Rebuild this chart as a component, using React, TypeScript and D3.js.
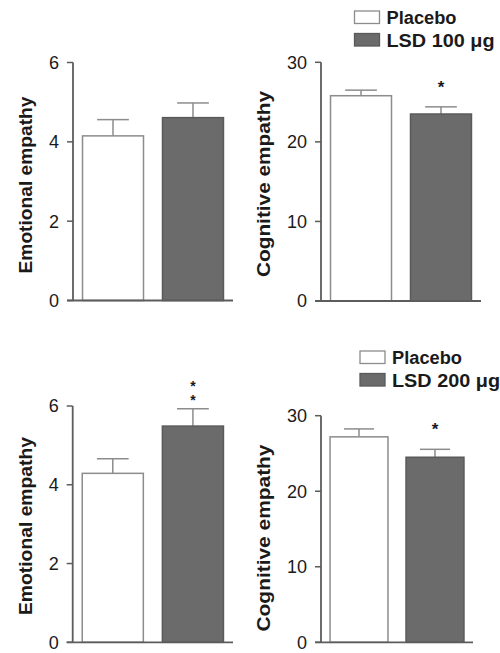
import React from "react";
import * as d3 from "d3";

// ---------- data ----------
const groups = ["Placebo", "LSD"];

const emotional100 = [4.15, 4.61];
const emotional100Err = [0.41, 0.37];
const cognitive100 = [25.8, 23.5];
const cognitive100Err = [0.7, 0.9];

const emotional200 = [4.29, 5.49];
const emotional200Err = [0.37, 0.44];
const cognitive200 = [27.2, 24.5];
const cognitive200Err = [1.05, 1.05];

const emotionalTicks = [0, 2, 4, 6];
const cognitiveTicks = [0, 10, 20, 30];

const sig100Emotional = ["", ""];
const sig100Cognitive = ["", "*"];
const sig200Emotional = ["", "**"];
const sig200Cognitive = ["", "*"];

const legend100 = ["Placebo", "LSD 100 \u03bcg"];
const legend200 = ["Placebo", "LSD 200 \u03bcg"];

const emotionalLabel = "Emotional empathy";
const cognitiveLabel = "Cognitive empathy";

// ---------- styles ----------
const FONT = "'Liberation Sans', Arial, Helvetica, sans-serif";
const AXIS = "#5c5c5c";
const TEXT = "#1a1a1a";
const fills = ["#ffffff", "#6b6b6b"];
const strokes = ["#8c8c8c", "#5a5a5a"];
const legendTextLen = [70, 108];
const STAR_FONT = 17;
const STAR_MID = 0.58 * STAR_FONT; // asterisk centre above baseline

type PanelProps = {
  values: number[];
  errs: number[];
  sig: string[];
  ticks: number[];
  max: number;
  label: string;
  axisX: number;
  xEnd: number;
  yBottom: number;
  yTop: number;
  labelX: number;
  labelY: number;
  labelLen: number;
};

function Stars({ s, cx, errTop }: { s: string; cx: number; errTop: number }) {
  if (!s) return null;
  if (s.length === 1) {
    return (
      <text
        x={cx}
        y={errTop - 24 + STAR_MID}
        textAnchor="middle"
        fontFamily={FONT}
        fontWeight="bold"
        fontSize={STAR_FONT}
        fill={TEXT}
      >
        {s}
      </text>
    );
  }
  // stacked stars as one vertical text run
  return (
    <text
      x={cx}
      y={errTop - 17}
      textAnchor="middle"
      fontFamily={FONT}
      fontWeight="bold"
      fontSize={14}
      fill={TEXT}
      style={{ writingMode: "vertical-rl", textOrientation: "upright", letterSpacing: "-2.4px" } as any}
    >
      {s}
    </text>
  );
}

function Panel(p: PanelProps) {
  const y = d3.scaleLinear().domain([0, p.max]).range([p.yBottom, p.yTop]);
  const x = d3
    .scaleBand<string>()
    .domain(groups)
    .range([p.axisX, p.xEnd])
    .paddingInner(0.2375)
    .paddingOuter(0.119);
  const bw = x.bandwidth();
  const cap = bw * 0.52;
  return (
    <g>
      {groups.map((g, i) => {
        const x0 = x(g) as number;
        const cx = x0 + bw / 2;
        const top = y(p.values[i]);
        const errTop = y(p.values[i] + p.errs[i]);
        return (
          <g key={g}>
            <line x1={cx} x2={cx} y1={top} y2={errTop} stroke={strokes[0]} strokeWidth={1.5} />
            <line x1={cx - cap / 2} x2={cx + cap / 2} y1={errTop} y2={errTop} stroke={strokes[0]} strokeWidth={1.5} />
            <rect
              x={x0}
              y={top}
              width={bw}
              height={p.yBottom - top}
              fill={fills[i]}
              stroke={strokes[i]}
              strokeWidth={1.5}
            />
            <Stars s={p.sig[i]} cx={cx} errTop={errTop} />
          </g>
        );
      })}
      <line x1={p.axisX} x2={p.axisX} y1={p.yTop} y2={p.yBottom} stroke={AXIS} strokeWidth={1.8} />
      <line x1={p.axisX - 6} x2={p.xEnd} y1={p.yBottom} y2={p.yBottom} stroke={AXIS} strokeWidth={1.8} />
      {p.ticks.map((t) => (
        <g key={t}>
          <line x1={p.axisX - 6} x2={p.axisX} y1={y(t)} y2={y(t)} stroke={AXIS} strokeWidth={1.5} />
          <text
            x={p.axisX - 14}
            y={y(t)}
            dy="0.36em"
            textAnchor="end"
            fontFamily={FONT}
            fontSize={18}
            fill={TEXT}
          >
            {t}
          </text>
        </g>
      ))}
      <text
        transform={`translate(${p.labelX},${p.labelY}) rotate(-90)`}
        textAnchor="middle"
        fontFamily={FONT}
        fontWeight="bold"
        fontSize={19}
        fill={TEXT}
        textLength={p.labelLen}
        lengthAdjust="spacingAndGlyphs"
      >
        {p.label}
      </text>
    </g>
  );
}

function Legend({ items, x, y }: { items: string[]; x: number; y: number }) {
  return (
    <g>
      {items.map((it, i) => (
        <g key={it} transform={`translate(${x},${y + i * 22.5})`}>
          <rect x={0} y={0} width={25} height={12.5} fill={fills[i]} stroke={strokes[i]} strokeWidth={1.3} />
          <text
            x={32}
            y={13}
            fontFamily={FONT}
            fontWeight="bold"
            fontSize={18}
            fill={TEXT}
            textLength={legendTextLen[i]}
            lengthAdjust="spacingAndGlyphs"
          >
            {it}
          </text>
        </g>
      ))}
    </g>
  );
}

export default function App() {
  return (
    <svg
      width={500}
      height={653}
      viewBox="0 0 500 653"
      style={{ position: "absolute", left: 0, top: 0, background: "#fff" }}
    >
      <Panel
        values={emotional100}
        errs={emotional100Err}
        sig={sig100Emotional}
        ticks={emotionalTicks}
        max={6}
        label={emotionalLabel}
        axisX={73}
        xEnd={233}
        yBottom={300.5}
        yTop={62.5}
        labelX={32}
        labelY={185}
        labelLen={177}
      />
      <Panel
        values={cognitive100}
        errs={cognitive100Err}
        sig={sig100Cognitive}
        ticks={cognitiveTicks}
        max={30}
        label={cognitiveLabel}
        axisX={321}
        xEnd={481}
        yBottom={301}
        yTop={62.3}
        labelX={270}
        labelY={184}
        labelLen={186}
      />
      <Legend items={legend100} x={354.5} y={11} />

      <Panel
        values={emotional200}
        errs={emotional200Err}
        sig={sig200Emotional}
        ticks={emotionalTicks}
        max={6}
        label={emotionalLabel}
        axisX={72.7}
        xEnd={233}
        yBottom={642.3}
        yTop={406}
        labelX={32}
        labelY={526}
        labelLen={178}
      />
      <Panel
        values={cognitive200}
        errs={cognitive200Err}
        sig={sig200Cognitive}
        ticks={cognitiveTicks}
        max={30}
        label={cognitiveLabel}
        axisX={321}
        xEnd={473}
        yBottom={642.3}
        yTop={415.7}
        labelX={270}
        labelY={538}
        labelLen={187}
      />
      <Legend items={legend200} x={360} y={351} />
    </svg>
  );
}
